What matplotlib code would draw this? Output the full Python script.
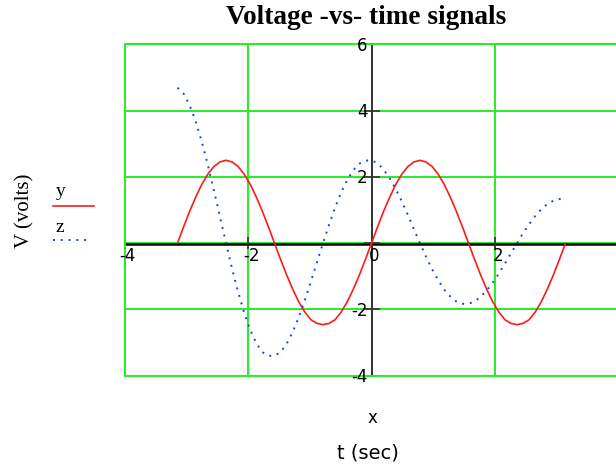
import matplotlib
matplotlib.use('Agg')
import matplotlib.pyplot as plt
import matplotlib.transforms as mtransforms
from matplotlib.lines import Line2D

# ---- data ----
t = [-3.142, -3.043, -2.945, -2.847, -2.749, -2.651, -2.553, -2.454,
     -2.356, -2.258, -2.160, -2.062, -1.963, -1.865, -1.767, -1.669,
     -1.571, -1.473, -1.374, -1.276, -1.178, -1.080, -0.982, -0.884,
     -0.785, -0.687, -0.589, -0.491, -0.393, -0.295, -0.196, -0.098,
     0.0, 0.098, 0.196, 0.295, 0.393, 0.491, 0.589, 0.687,
     0.785, 0.884, 0.982, 1.080, 1.178, 1.276, 1.374, 1.473,
     1.571, 1.669, 1.767, 1.865, 1.963, 2.062, 2.160, 2.258,
     2.356, 2.454, 2.553, 2.651, 2.749, 2.847, 2.945, 3.043, 3.142]
y_vals = [0.0, 0.49, 0.96, 1.39, 1.77, 2.08, 2.31, 2.45,
          2.50, 2.45, 2.31, 2.08, 1.77, 1.39, 0.96, 0.49,
          0.0, -0.49, -0.96, -1.39, -1.77, -2.08, -2.31, -2.42,
          -2.46, -2.42, -2.31, -2.08, -1.77, -1.39, -0.96, -0.49,
          0.0, 0.49, 0.96, 1.39, 1.77, 2.08, 2.31, 2.45,
          2.50, 2.45, 2.31, 2.08, 1.77, 1.39, 0.96, 0.49,
          0.0, -0.49, -0.96, -1.39, -1.77, -2.08, -2.31, -2.42,
          -2.46, -2.42, -2.31, -2.08, -1.77, -1.39, -0.96, -0.49, 0.0]
z_vals = [4.69, 4.51, 4.16, 3.67, 3.06, 2.36, 1.60, 0.80,
          0.0, -0.77, -1.47, -2.10, -2.62, -3.02, -3.29, -3.40,
          -3.40, -3.29, -3.04, -2.68, -2.24, -1.72, -1.17, -0.58,
          0.0, 0.56, 1.08, 1.53, 1.91, 2.20, 2.40, 2.49,
          2.50, 2.41, 2.22, 1.96, 1.63, 1.26, 0.85, 0.42,
          0.0, -0.41, -0.79, -1.12, -1.40, -1.61, -1.76, -1.83,
          -1.83, -1.76, -1.62, -1.43, -1.19, -0.92, -0.62, -0.31,
          0.0, 0.30, 0.57, 0.82, 1.02, 1.18, 1.28, 1.33, 1.34]
x_grid = [-4, -2, 0, 2, 4]
y_grid = [-4, -2, 0, 2, 4, 6]
x_tick_vals = [-4, -2, 0, 2]
x_tick_labels = ['-4', '-2', '0', '2']
y_tick_vals = [-4, -2, 2, 4, 6]
y_tick_labels = ['-4', '-2', '2', '4', '6']
title = 'Voltage -vs- time signals'

W, H = 616, 465
fig = plt.figure(figsize=(W / 100, H / 100), dpi=100)
fig.patch.set_facecolor('white')

def P(x, y):
    return (x / W, 1 - y / H)

left_px, right_px, top_px, bot_px = 124.5, 618.5, 44.3, 375.7
ax = fig.add_axes([left_px / W, 1 - bot_px / H, (right_px - left_px) / W, (bot_px - top_px) / H])
ax.set_xlim(-4, 4)
ax.set_ylim(-4, 6)
ax.set_facecolor('white')

GREEN = '#22f022'
ax.set_xticks(x_grid)
ax.set_yticks(y_grid)
ax.tick_params(length=0, labelbottom=False, labelleft=False)
ax.grid(True, color=GREEN, linewidth=1.4, zorder=0)
ax.set_axisbelow(True)
for s in ['top', 'left', 'bottom', 'right']:
    ax.spines[s].set_color(GREEN)
    ax.spines[s].set_linewidth(1.4)

# axes through origin
shift = mtransforms.offset_copy(ax.transData, fig=fig, x=0, y=-1.2, units='dots')
ax.plot([-4, 4], [0, 0], color='black', linewidth=1.8, zorder=2, transform=shift, clip_on=False)
ax.axvline(0, color='#333333', linewidth=1.4, zorder=2)
ax.plot([0] * len(y_grid), y_grid, linestyle='none', marker='_', markersize=12,
        markeredgewidth=1.2, color='#333333', clip_on=False, zorder=2)
ax.plot(x_tick_vals, [0] * len(x_tick_vals), linestyle='none', marker='|', markersize=9,
        markeredgewidth=1.2, color='#333333', clip_on=False, zorder=2)

# curves
ax.plot(t, y_vals, color='#ff1a1a', linewidth=1.2, zorder=3, clip_on=False)
ax.plot(t, z_vals, color='#1a3cff', linewidth=1.4, linestyle=(0, (1, 3)),
        dash_capstyle='butt', zorder=3, clip_on=False)

# tick labels
tick_font = dict(family='DejaVu Sans', fontsize=12, color='black')
for v, lab in zip(x_tick_vals, x_tick_labels):
    ax.annotate(lab, (v, 0), xytext=(3, -13), textcoords='offset pixels',
                ha='center', va='center', **tick_font)
for v, lab in zip(y_tick_vals, y_tick_labels):
    ax.annotate(lab, (0, v), xytext=(-4, -1.5), textcoords='offset pixels',
                ha='right', va='center', **tick_font)

# title and labels
fig.text(*P(366, 18), title, family='Liberation Serif', fontweight='bold',
         fontsize=19.6, ha='center', va='center')
fig.text(*P(25, 211), 'V (volts)', family='Liberation Serif', fontsize=15,
         rotation=90, ha='center', va='center')
fig.text(*P(372, 418), 'x', family='DejaVu Sans', fontsize=12, ha='center', va='center')
fig.text(*P(368, 453), 't (sec)', family='DejaVu Sans', fontsize=14, ha='center', va='center')

# legend
fig.text(*P(61, 192), 'y', family='Liberation Serif', fontsize=14, ha='center', va='center')
fig.text(*P(60, 227), 'z', family='Liberation Serif', fontsize=14, ha='center', va='center')
fig.add_artist(Line2D([53 / W, 94 / W], [1 - 206.5 / H, 1 - 206.5 / H],
                      color='#ff1a1a', linewidth=1.2))
fig.add_artist(Line2D([53 / W, 88 / W], [1 - 240 / H, 1 - 240 / H],
                      color='#1a3cff', linewidth=1.4, linestyle=(0, (1, 3)),
                      dash_capstyle='butt'))

fig.savefig('out.png', dpi=100, facecolor='white')
